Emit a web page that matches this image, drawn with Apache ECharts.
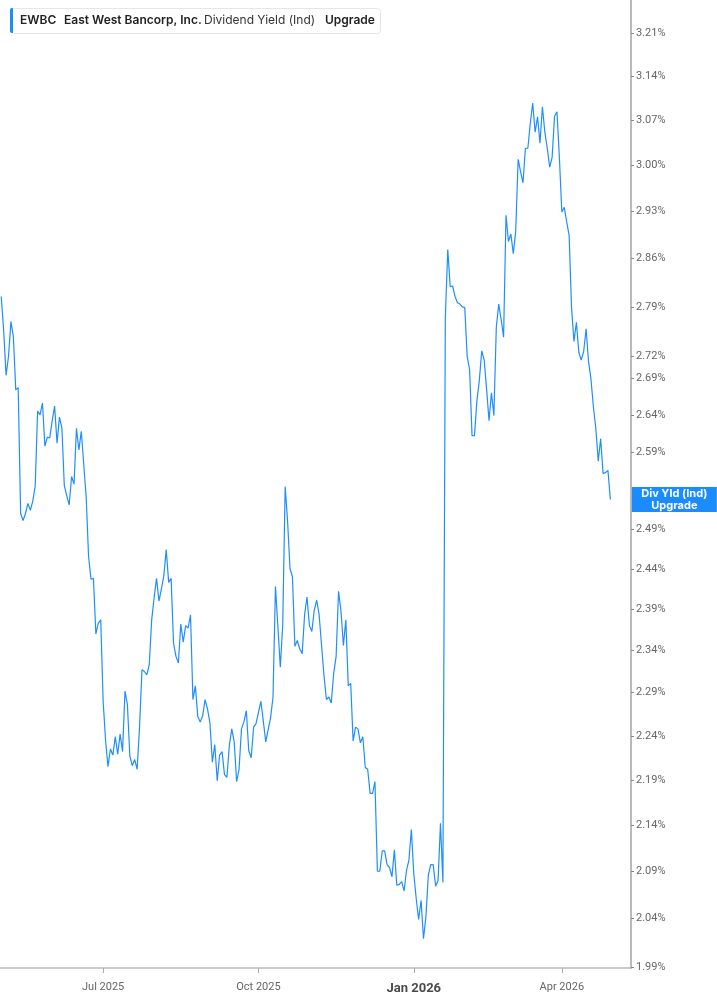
<!DOCTYPE html>
<html>
<head>
<meta charset="utf-8">
<script src="https://cdn.jsdelivr.net/npm/echarts@6/dist/echarts.min.js"></script>
<style>
html,body{margin:0;padding:0;background:#fff;}
#chart{width:717px;height:1005px;}
</style>
</head>
<body>
<div id="chart"></div>
<script>
const dates = [
"2025-04-30",
"2025-05-01","2025-05-02","2025-05-05","2025-05-06","2025-05-07","2025-05-08","2025-05-09","2025-05-12","2025-05-13","2025-05-14","2025-05-15","2025-05-16","2025-05-19","2025-05-20","2025-05-21","2025-05-22","2025-05-23","2025-05-27","2025-05-28","2025-05-29","2025-05-30",
"2025-06-02","2025-06-03","2025-06-04","2025-06-05","2025-06-06","2025-06-09","2025-06-10","2025-06-11","2025-06-12","2025-06-13","2025-06-16","2025-06-17","2025-06-18","2025-06-20","2025-06-23","2025-06-24","2025-06-25","2025-06-26","2025-06-27","2025-06-30",
"2025-07-01","2025-07-02","2025-07-03","2025-07-07","2025-07-08","2025-07-09","2025-07-10","2025-07-11","2025-07-14","2025-07-15","2025-07-16","2025-07-17","2025-07-18","2025-07-21","2025-07-22","2025-07-23","2025-07-24","2025-07-25","2025-07-28","2025-07-29","2025-07-30","2025-07-31",
"2025-08-01","2025-08-04","2025-08-05","2025-08-06","2025-08-07","2025-08-08","2025-08-11","2025-08-12","2025-08-13","2025-08-14","2025-08-15","2025-08-18","2025-08-19","2025-08-20","2025-08-21","2025-08-22","2025-08-25","2025-08-26","2025-08-27","2025-08-28","2025-08-29",
"2025-09-02","2025-09-03","2025-09-04","2025-09-05","2025-09-08","2025-09-09","2025-09-10","2025-09-11","2025-09-12","2025-09-15","2025-09-16","2025-09-17","2025-09-18","2025-09-19","2025-09-22","2025-09-23","2025-09-24","2025-09-25","2025-09-26","2025-09-29","2025-09-30",
"2025-10-01","2025-10-02","2025-10-03","2025-10-06","2025-10-07","2025-10-08","2025-10-09","2025-10-10","2025-10-13","2025-10-14","2025-10-15","2025-10-16","2025-10-17","2025-10-20","2025-10-21","2025-10-22","2025-10-23","2025-10-24","2025-10-27","2025-10-28","2025-10-29","2025-10-30","2025-10-31",
"2025-11-03","2025-11-04","2025-11-05","2025-11-06","2025-11-07","2025-11-10","2025-11-11","2025-11-12","2025-11-13","2025-11-14","2025-11-17","2025-11-18","2025-11-19","2025-11-20","2025-11-21","2025-11-24","2025-11-25","2025-11-26","2025-11-28",
"2025-12-01","2025-12-02","2025-12-03","2025-12-04","2025-12-05","2025-12-08","2025-12-09","2025-12-10","2025-12-11","2025-12-12","2025-12-15","2025-12-16","2025-12-17","2025-12-18","2025-12-19","2025-12-22","2025-12-23","2025-12-24","2025-12-26","2025-12-29","2025-12-30","2025-12-31",
"2026-01-02","2026-01-05","2026-01-06","2026-01-07","2026-01-08","2026-01-09","2026-01-12","2026-01-13","2026-01-14","2026-01-15","2026-01-16","2026-01-20","2026-01-21","2026-01-22","2026-01-23","2026-01-26","2026-01-27","2026-01-28","2026-01-29","2026-01-30",
"2026-02-02","2026-02-03","2026-02-04","2026-02-05","2026-02-06","2026-02-09","2026-02-10","2026-02-11","2026-02-12","2026-02-13","2026-02-17","2026-02-18","2026-02-19","2026-02-20","2026-02-23","2026-02-24","2026-02-25","2026-02-26","2026-02-27",
"2026-03-02","2026-03-03","2026-03-04","2026-03-05","2026-03-06","2026-03-09","2026-03-10","2026-03-11","2026-03-12","2026-03-13","2026-03-16","2026-03-17","2026-03-18","2026-03-19","2026-03-20","2026-03-23","2026-03-24","2026-03-25","2026-03-26","2026-03-27","2026-03-30","2026-03-31",
"2026-04-01","2026-04-02","2026-04-06","2026-04-07","2026-04-08","2026-04-09","2026-04-10","2026-04-13","2026-04-14","2026-04-15","2026-04-16","2026-04-17","2026-04-20","2026-04-21","2026-04-22","2026-04-23","2026-04-24","2026-04-27","2026-04-28","2026-04-29","2026-04-30",
"2026-05-01","2026-05-04","2026-05-05","2026-05-06","2026-05-07","2026-05-08","2026-05-11","2026-05-12"
];

const divYield = [
2.805,2.757,2.694,2.72,2.769,2.748,2.674,2.677,2.51,2.501,
2.51,2.523,2.514,2.526,2.545,2.645,2.64,2.656,2.598,2.61,
2.609,2.632,2.652,2.602,2.637,2.622,2.546,2.533,2.521,2.558,
2.548,2.622,2.593,2.618,2.574,2.532,2.455,2.427,2.428,2.36,
2.373,2.377,2.28,2.235,2.205,2.225,2.218,2.239,2.219,2.242,
2.222,2.292,2.276,2.217,2.206,2.213,2.202,2.25,2.317,2.315,
2.311,2.323,2.377,2.404,2.428,2.40,2.415,2.431,2.464,2.423,
2.428,2.349,2.333,2.325,2.372,2.35,2.37,2.367,2.383,2.282,
2.298,2.262,2.256,2.263,2.282,2.271,2.255,2.21,2.23,2.189,
2.218,2.222,2.196,2.193,2.229,2.248,2.233,2.188,2.202,2.248,
2.256,2.269,2.223,2.215,2.25,2.254,2.267,2.28,2.257,2.233,
2.247,2.261,2.285,2.418,2.369,2.32,2.371,2.545,2.50,2.44,
2.43,2.345,2.352,2.342,2.336,2.383,2.405,2.37,2.363,2.389,
2.401,2.383,2.346,2.31,2.282,2.285,2.278,2.313,2.333,2.412,
2.388,2.346,2.377,2.298,2.301,2.234,2.25,2.248,2.232,2.239,
2.204,2.202,2.175,2.175,2.188,2.09,2.09,2.112,2.112,2.097,
2.094,2.084,2.113,2.075,2.076,2.079,2.069,2.091,2.102,2.135,
2.087,2.061,2.039,2.059,2.019,2.042,2.086,2.097,2.097,2.074,
2.080,2.142,2.078,2.775,2.873,2.819,2.82,2.805,2.796,2.794,
2.79,2.789,2.72,2.702,2.612,2.612,2.659,2.687,2.728,2.715,
2.675,2.632,2.67,2.639,2.761,2.794,2.772,2.747,2.924,2.885,
2.896,2.867,2.90,3.009,2.99,2.973,3.026,3.026,3.065,3.097,
3.051,3.075,3.034,3.091,3.051,3.026,2.997,3.012,3.076,3.083,
3.011,2.929,2.936,2.914,2.894,2.789,2.741,2.768,2.726,2.715,
2.727,2.759,2.713,2.689,2.651,2.622,2.578,2.608,2.562,2.563,
2.566,2.528
];

const xTickDates = ["2025-07-01","2025-10-01","2026-01-02","2026-04-01"];
const xTickLabels = ["Jul 2025","Oct 2025","Jan 2026","Apr 2026"];
const yTicks = [1.99,2.04,2.09,2.14,2.19,2.24,2.29,2.34,2.39,2.44,2.49,2.59,2.64,2.69,2.72,2.79,2.86,2.93,3.00,3.07,3.14,3.21];

const LINE = '#1e8eff';
const AXISFONT = 'Roboto, "Liberation Sans", sans-serif';
const LEGFONT = 'Inter, "Noto Sans", sans-serif';

const chart = echarts.init(document.getElementById('chart'), null, {renderer: 'canvas'});
const lastIdx = divYield.length - 1;
const seriesData = dates.map((d, i) => (i < divYield.length ? divYield[i] : null));

const option = {
  backgroundColor: '#ffffff',
  animation: false,
  grid: {left: 0, right: 86, top: 0, bottom: 37},
  xAxis: {
    type: 'category',
    data: dates,
    boundaryGap: true,
    axisLine: {show: true, lineStyle: {color: '#b9b9b9', width: 1.5}},
    axisTick: {
      show: true, alignWithLabel: true, length: 5,
      interval: (idx, val) => xTickDates.includes(val),
      lineStyle: {color: '#aaaaaa', width: 1}
    },
    axisLabel: {
      interval: (idx, val) => xTickDates.includes(val),
      margin: 14,
      color: '#666666',
      fontSize: 11,
      fontFamily: AXISFONT,
      formatter: (val) => {
        const k = xTickDates.indexOf(val);
        if (k < 0) return '';
        const t = xTickLabels[k];
        return val.slice(5, 7) === '01' ? '{yr|' + t + '}' : t;
      },
      rich: {
        yr: {fontSize: 13, fontWeight: 'bold', color: '#4a4a4a', fontFamily: AXISFONT}
      }
    },
    splitLine: {show: false}
  },
  yAxis: {
    type: 'log',
    logBase: 10,
    position: 'right',
    min: 1.989,
    max: 3.2646,
    axisLine: {show: true, lineStyle: {color: '#b9b9b9', width: 2}},
    axisTick: {show: true, customValues: yTicks, length: 3, lineStyle: {color: '#888888', width: 1}},
    axisLabel: {
      customValues: yTicks,
      margin: 5,
      color: '#666666',
      fontSize: 11,
      fontFamily: AXISFONT,
      formatter: (v) => Number(v).toFixed(2) + '%'
    },
    splitLine: {show: false},
    minorTick: {show: false},
    minorSplitLine: {show: false}
  },
  series: [{
    type: 'line',
    data: seriesData,
    showSymbol: false,
    symbol: 'none',
    lineStyle: {color: LINE, width: 1.2},
    itemStyle: {color: LINE},
    clip: true,
    markPoint: {
      silent: true,
      symbol: 'rect',
      symbolSize: [85, 25],
      symbolOffset: [64, 0],
      itemStyle: {color: '#1a8cff'},
      label: {
        show: true, position: 'inside',
        formatter: 'Div Yld (Ind)\nUpgrade',
        color: '#ffffff', fontWeight: 'bold', fontSize: 11, lineHeight: 12,
        fontFamily: LEGFONT
      },
      data: [{coord: [dates[lastIdx], divYield[lastIdx]]}]
    }
  }],
  graphic: [
    {type: 'rect', left: 10, top: 8, shape: {width: 370, height: 25, r: 3},
     style: {fill: '#ffffff', stroke: '#e4e6ea', lineWidth: 1}, z: 100},
    {type: 'rect', left: 10, top: 8, shape: {width: 3, height: 25, r: [2, 0, 0, 2]},
     style: {fill: '#1a8cff'}, z: 101},
    {type: 'text', left: 20, top: 14, z: 102,
     style: {text: 'EWBC', fill: '#222222', font: '600 12px ' + LEGFONT}},
    {type: 'text', left: 64, top: 14, z: 102,
     style: {text: 'East West Bancorp, Inc.', fill: '#222222', font: '600 12px ' + LEGFONT}},
    {type: 'text', left: 204, top: 14, z: 102,
     style: {text: 'Dividend Yield (Ind)', fill: '#333333', font: '12px ' + LEGFONT}},
    {type: 'text', left: 325, top: 14, z: 102,
     style: {text: 'Upgrade', fill: '#222222', font: '600 12px ' + LEGFONT}}
  ]
};
chart.setOption(option);
</script>
</body>
</html>
